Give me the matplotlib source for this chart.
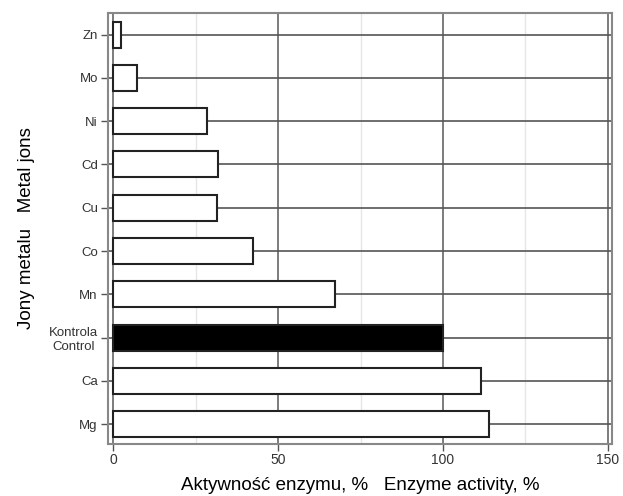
import matplotlib
matplotlib.use("Agg")
import matplotlib.pyplot as plt
import numpy as np

categories = ["Mg", "Ca", "Kontrola\nControl", "Mn", "Co", "Cu", "Cd", "Ni", "Mo", "Zn"]
values = [114, 111.6, 100, 67.3, 42.3, 31.5, 31.6, 28.3, 7.2, 2.3]
colors = ["white", "white", "black", "white", "white", "white", "white", "white", "white", "white"]
major_ticks = [0, 50, 100, 150]
minor_ticks = [25, 75, 125]

plt.rcParams['font.family'] = ['Liberation Sans', 'DejaVu Sans']

fig = plt.figure(figsize=(6.23, 4.96), dpi=100)
ax = fig.add_axes([0.1726, 0.1058, 0.983 - 0.1726, 0.9728 - 0.1058])

y = np.arange(len(categories))
ax.set_xlim(-1.8, 151.4)
ax.set_ylim(-0.45, len(categories) - 1 + 0.49)

for t in minor_ticks:
    ax.axvline(t, color="#e6e6e6", lw=1.0, zorder=0)
for t in major_ticks:
    ax.axvline(t, color="#666666", lw=1.2, zorder=1)
for yy in y:
    ax.axhline(yy, color="#555555", lw=1.2, zorder=1)

ax.barh(y, values, height=0.6, color=colors, edgecolor="#222222", linewidth=1.5, zorder=3)

ax.set_yticks(y)
ax.set_yticklabels(categories, fontsize=9.5, color="#333333", multialignment="center")
ax.set_xticks(major_ticks)
ax.set_xticklabels([str(t) for t in major_ticks], fontsize=10, color="#333333")
ax.tick_params(axis="both", length=5, width=1, color="#555555", pad=2)

for s in ax.spines.values():
    s.set_color("#888888")
    s.set_linewidth(1.5)

ax.set_xlabel("Aktywność enzymu, %   Enzyme activity, %", fontsize=13.5, labelpad=7)
ax.set_ylabel("Jony metalu   Metal jons", fontsize=13.5, labelpad=10)

fig.savefig("out.png", dpi=100)
